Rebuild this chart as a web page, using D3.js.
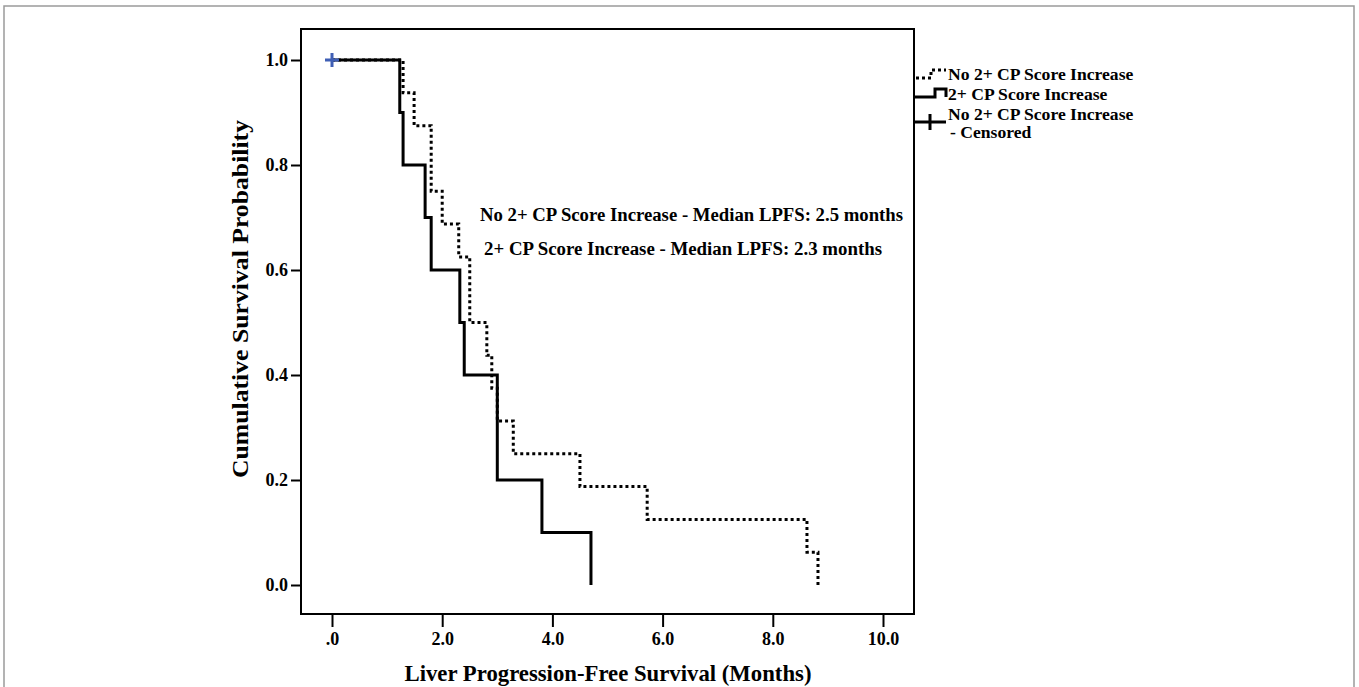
<!doctype html>
<html>
<head>
<style>
    body { margin: 0; background: #fff; }
    text { font-family: "Liberation Serif", "Times New Roman", serif; font-weight: bold; fill: #000; }
    .axis path { display: none; }
    .axis line { stroke: #000; stroke-width: 2; }
    .axis text { font-size: 18px; font-family: "Liberation Serif", serif; }
</style>
<script src="https://d3js.org/d3.v7.min.js"></script>
</head>
<body>
<svg width="1359" height="687"></svg>
<script>
// No 2+ CP Score Increase (n=16)
var noIncTimes = [0, 1.29, 1.49, 1.80, 2.00, 2.30, 2.50, 2.81, 2.90, 3.00, 3.29, 4.50, 5.72, 8.62, 8.82];
var noIncSurv  = [1.0, 0.9375, 0.875, 0.75, 0.6875, 0.625, 0.5, 0.4375, 0.375, 0.3125, 0.25, 0.1875, 0.125, 0.0625, 0];
// 2+ CP Score Increase (n=10)
var incTimes = [0, 1.23, 1.29, 1.69, 1.80, 2.32, 2.40, 3.00, 3.81, 4.70];
var incSurv  = [1.0, 0.9, 0.8, 0.7, 0.6, 0.5, 0.4, 0.2, 0.1, 0];
// censored points (No 2+ group)
var censTimes = [0];
var censSurv = [1.0];

var xTicks = [0, 2, 4, 6, 8, 10];
var xTickLabels = [".0", "2.0", "4.0", "6.0", "8.0", "10.0"];
var yTicks = [0, 0.2, 0.4, 0.6, 0.8, 1.0];
var yTickLabels = ["0.0", "0.2", "0.4", "0.6", "0.8", "1.0"];

var medianNotes = [
    "No 2+ CP Score Increase - Median LPFS: 2.5 months",
    "2+ CP Score Increase - Median LPFS: 2.3 months"
];
var legendLabels = ["No 2+ CP Score Increase", "2+ CP Score Increase", "No 2+ CP Score Increase", "- Censored"];

var svg = d3.select("svg");

// outer gray frame
svg.append("rect")
   .attr("x", 4).attr("y", 6)
   .attr("width", 1350).attr("height", 700)
   .attr("fill", "none").attr("stroke", "#9a9a9a").attr("stroke-width", 1.5);

var frame = {left: 301, right: 914, top: 29, bottom: 614};

var x = d3.scaleLinear().domain([0, 10]).range([332, 883]);
var y = d3.scaleLinear().domain([0, 1]).range([585, 60]);

// plot frame
svg.append("rect")
   .attr("x", frame.left).attr("y", frame.top)
   .attr("width", frame.right - frame.left).attr("height", frame.bottom - frame.top)
   .attr("fill", "none").attr("stroke", "#000").attr("stroke-width", 2);

svg.append("g")
   .attr("class", "axis")
   .attr("transform", "translate(" + frame.left + ",0)")
   .call(d3.axisLeft(y).tickValues(yTicks).tickSize(10).tickPadding(3)
        .tickFormat(function(d, i) { return yTickLabels[i]; }));

svg.append("g")
   .attr("class", "axis")
   .attr("transform", "translate(0," + frame.bottom + ")")
   .call(d3.axisBottom(x).tickValues(xTicks).tickSize(13).tickPadding(5)
        .tickFormat(function(d, i) { return xTickLabels[i]; }));

// axis titles
svg.append("text")
   .attr("x", 608).attr("y", 681)
   .attr("text-anchor", "middle")
   .attr("textLength", 407).attr("lengthAdjust", "spacingAndGlyphs")
   .style("font-size", "23px")
   .text("Liver Progression-Free Survival (Months)");

svg.append("text")
   .attr("transform", "translate(248,299) rotate(-90)")
   .attr("text-anchor", "middle")
   .attr("textLength", 358).attr("lengthAdjust", "spacingAndGlyphs")
   .style("font-size", "23px")
   .text("Cumulative Survival Probability");

var line = d3.line()
    .x(function(d) { return x(d[0]); })
    .y(function(d) { return y(d[1]); })
    .curve(d3.curveStepAfter);

var incData = d3.zip(incTimes, incSurv);
var noIncData = d3.zip(noIncTimes, noIncSurv);

svg.append("path")
   .datum(incData)
   .attr("d", line)
   .attr("fill", "none").attr("stroke", "#000").attr("stroke-width", 3);

svg.append("path")
   .datum(noIncData)
   .attr("d", line)
   .attr("fill", "none").attr("stroke", "#000").attr("stroke-width", 3)
   .attr("stroke-dasharray", "3,3");

// censored marks
svg.selectAll(".cens")
   .data(d3.zip(censTimes, censSurv))
   .enter().append("path")
   .attr("class", "cens")
   .attr("d", function(d) {
       var cx = x(d[0]), cy = y(d[1]);
       return "M" + (cx - 7) + "," + cy + "H" + (cx + 7) + "M" + cx + "," + (cy - 7) + "V" + (cy + 7);
   })
   .attr("stroke", "#3f5fb5").attr("stroke-width", 3);

// median notes
svg.selectAll(".note")
   .data(medianNotes)
   .enter().append("text")
   .attr("class", "note")
   .attr("x", function(d, i) { return i == 0 ? 480 : 484; })
   .attr("y", function(d, i) { return 221 + i * 34; })
   .attr("textLength", function(d, i) { return i == 0 ? 423 : 398; })
   .attr("lengthAdjust", "spacingAndGlyphs")
   .style("font-size", "18px")
   .text(function(d) { return d; });

// legend
var lg = svg.append("g");
lg.append("path")
  .attr("d", "M916,78H931V70H946")
  .attr("fill", "none").attr("stroke", "#000").attr("stroke-width", 3).attr("stroke-dasharray", "3,3");
lg.append("path")
  .attr("d", "M914,97H935V89H946V97")
  .attr("fill", "none").attr("stroke", "#000").attr("stroke-width", 3);
lg.append("path")
  .attr("d", "M914,122H946M930,114V130")
  .attr("fill", "none").attr("stroke", "#000").attr("stroke-width", 3);

lg.selectAll("text")
  .data(legendLabels)
  .enter().append("text")
  .attr("x", function(d, i) { return i == 3 ? 950 : 948; })
  .attr("y", function(d, i) { return [80, 100, 120, 138][i]; })
  .style("font-size", "17.6px")
  .text(function(d) { return d; });
</script>
</body>
</html>
